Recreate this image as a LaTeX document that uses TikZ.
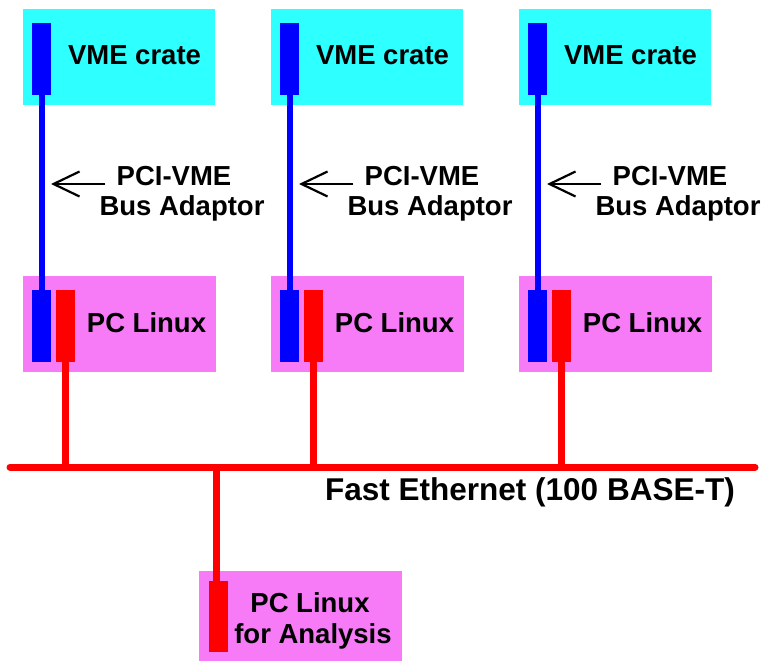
\documentclass[tikz,border=0pt]{standalone}
\usepackage{fontspec}
\setmainfont{Liberation Sans}
\usetikzlibrary{arrows.meta}

\definecolor{cratecyan}{RGB}{46,255,255}
\definecolor{pcpink}{RGB}{247,122,247}
\definecolor{busblue}{RGB}{0,0,255}
\definecolor{netred}{RGB}{255,0,0}

\tikzset{
  box/.style={rectangle, inner sep=0pt, outer sep=0pt, anchor=north west},
  cratebox/.style={box, fill=cratecyan, minimum width=192pt, minimum height=96pt},
  pcbox/.style={box, fill=pcpink, minimum width=193pt, minimum height=96pt},
  vmebar/.style={box, fill=busblue, minimum width=19pt, minimum height=72pt},
  ethbar/.style={box, fill=netred, minimum width=19pt, minimum height=72pt},
  label/.style={font=\fontsize{27.5}{30}\selectfont\bfseries, anchor=base, inner sep=0pt},
  vmeline/.style={draw=busblue, line width=6pt},
  ethline/.style={draw=netred, line width=7pt},
  pointer/.style={draw=black, line width=2pt,
    -{Straight Barb[length=26pt, width=25pt, line width=2.2pt]}},
}

\begin{document}
\begin{tikzpicture}[x=1pt, y=-1pt]
  \useasboundingbox (0,0) rectangle (767,661);

  % Ethernet backbone
  \coordinate (busL) at (10,467);
  \coordinate (busR) at (755,467);
  \draw[ethline, line cap=round] (busL) -- (busR);
  \node[label, font=\fontsize{31.5}{33}\selectfont\bfseries] (ethlabel) at (530,500) {Fast Ethernet (100 BASE-T)};

  % Three VME crates, each read out by a Linux PC
  \foreach \i/\dx in {1/0, 2/248, 3/496} {
    \begin{scope}[xshift=\dx]
      \node[cratebox] (crate\i) at (23,9) {};
      \node[vmebar] (crateBar\i) at (32,23) {};
      \node[label] (crateText\i) at (134.5,64) {VME crate};

      \node[pcbox] (pc\i) at (23,276) {};
      \node[vmebar] (pcBlue\i) at (32,290) {};
      \node[ethbar] (pcRed\i) at (56,290) {};
      \node[label] (pcText\i) at (146.5,332) {PC Linux};

      \draw[vmeline] (crateBar\i.south) -- (pcBlue\i.north);
      \draw[ethline] (pcRed\i.south) -- (pcRed\i.south |- busL);

      \node[label] (adaptA\i) at (174,185) {PCI-VME};
      \node[label] (adaptB\i) at (182,215) {Bus Adaptor};
      \coordinate (tail\i) at (105,184);
      \coordinate (tip\i) at (51,184);
      \draw[pointer] (tail\i) -- (tip\i);
    \end{scope}
  }

  % Analysis PC
  \node[box, fill=pcpink, minimum width=203pt, minimum height=90pt] (pcA) at (199,571) {};
  \node[ethbar, minimum height=71pt] (pcARed) at (209,581) {};
  \node[label] (pcAText1) at (310,612) {PC Linux};
  \node[label] (pcAText2) at (313,643) {for Analysis};
  \coordinate (dropA) at (216,467);
  \draw[ethline] (dropA) -- (dropA |- pcARed.north);
\end{tikzpicture}
\end{document}
